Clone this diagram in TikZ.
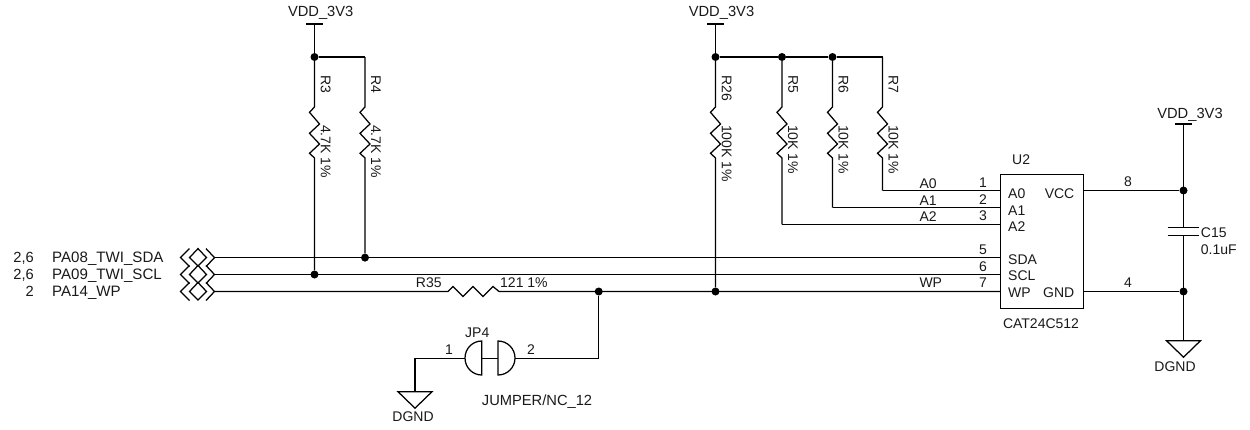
\documentclass[tikz,border=0pt]{standalone}
\usepackage{fontspec}
\setmainfont{Liberation Sans}
\newcommand\ResV[2]{\draw[wire] (#1) -- (#1 |- ry) -- ++(-5,5.3) -- ++(10,11.7) -- ++(-10,9.3) -- ++(10,10.7) -- ++(-10,9.3) -- ++(5,4.7) -- (#2);}
\newcommand\OffPage[1]{%
  \draw[wire,line join=miter] ([shift={(-25,-9)}]#1) -- ([shift={(-34,0)}]#1) -- ([shift={(-25,9)}]#1);
  \draw[wire,line join=miter] ([shift={(-16.5,-9)}]#1) -- ([shift={(-25,0)}]#1) -- ([shift={(-16.5,8.5)}]#1) -- ([shift={(-8,0)}]#1) -- cycle;
  \draw[wire,line join=miter] ([shift={(-8.5,-9)}]#1) -- ([shift={(0,0)}]#1) -- ([shift={(-8.5,9)}]#1);}
\newcommand\Pwr[1]{\draw[wire] ([shift={(-8.5,0)}]#1) -- ([shift={(8.5,0)}]#1);}
\newcommand\Gnd[1]{\draw[wire,line join=miter] ([shift={(-17,0)}]#1) -- ([shift={(17,0)}]#1) -- ([shift={(0,16.5)}]#1) -- cycle;}
\tikzset{
  wire/.style={line width=1.25pt,black},
  dot/.style={circle,fill=black,draw=none,inner sep=0pt,minimum size=8pt},
  lbl/.style={inner sep=0pt,font=\fontsize{14}{14}\selectfont,text=black!90},
  wide/.style={font=\fontsize{14.7}{14.7}\selectfont},
  wider/.style={font=\fontsize{15.1}{15.1}\selectfont},
  lw/.style={lbl,anchor=base west},
  le/.style={lbl,anchor=base east},
  lc/.style={lbl,anchor=base},
  lr/.style={lbl,anchor=west,rotate=-90},
}
\begin{document}
\begin{tikzpicture}[x=1pt,y=-1pt]
\useasboundingbox (0,0) rectangle (1250,429);
\coordinate (ry) at (0,107);
% power symbols and junctions
\coordinate (v1) at (314.5,24);
\coordinate (v2) at (715.5,24);
\coordinate (v3) at (1183.5,124);
\node[dot] (j1) at (314.5,57) {};
\node[dot] (j2) at (715.5,57) {};
\node[dot] (j5) at (782,57) {};
\node[dot] (j6) at (832.5,57) {};
\coordinate (c4) at (365,57);
\coordinate (c7) at (882.5,57);
% bus
\coordinate (sdaL) at (214.5,257.6);
\coordinate (sclL) at (214.5,274.5);
\coordinate (wpL) at (214.5,291.5);
\node[dot] (jsda) at (365,257.6) {};
\node[dot] (jscl) at (314.5,274.5) {};
\node[dot] (jwp) at (715.5,291.5) {};
\node[dot] (jj) at (598.7,291.5) {};
\coordinate (r35a) at (448,291.5);
\coordinate (r35b) at (499,291.5);
% U2
\node[draw,line width=1.25pt,inner sep=0pt,minimum width=83pt,minimum height=134pt,anchor=north west] (u2) at (1000,174) {};
\coordinate (pa0) at (1000,190.5);
\coordinate (pa1) at (1000,207.6);
\coordinate (pa2) at (1000,224.4);
\coordinate (psda) at (1000,257.6);
\coordinate (pscl) at (1000,274.5);
\coordinate (pwp) at (1000,291.5);
\coordinate (pvcc) at (1083,190.5);
\coordinate (pgnd) at (1083,291.5);
\coordinate (b7) at (882.5,190.5);
\coordinate (b6) at (832.5,207.6);
\coordinate (b5) at (782,224.4);
\node[dot] (jvcc) at (1183.5,190.5) {};
\node[dot] (jgnd) at (1183.5,291.5) {};
% capacitor
\coordinate (cap1) at (1183.5,227.3);
\coordinate (cap2) at (1183.5,235.7);
\coordinate (g1) at (1183.5,340.7);
% jumper
\coordinate (jp1) at (465,358.4);
\coordinate (jp2) at (515,358.4);
\coordinate (jpw) at (415,358.4);
\coordinate (g2) at (415,391.7);
\coordinate (jpc) at (598.7,358.4);
% wires
\Pwr{v1}\Pwr{v2}\Pwr{v3}
\draw[wire] (v1) -- (j1);
\draw[wire] (v2) -- (j2);
\draw[wire] (j1) -- (c4);
\draw[wire] (j2) -- (j5) -- (j6) -- (c7);
\ResV{j1}{jscl}
\ResV{c4}{jsda}
\ResV{j2}{jwp}
\ResV{j5}{b5}
\ResV{j6}{b6}
\ResV{c7}{b7}
\draw[wire] (b7) -- (pa0);
\draw[wire] (b6) -- (pa1);
\draw[wire] (b5) -- (pa2);
\draw[wire] (sdaL) -- (psda);
\draw[wire] (sclL) -- (pscl);
\draw[wire] (wpL) -- (r35a) -- ++(5,-5) -- ++(10,10) -- ++(10,-10) -- ++(10,10) -- ++(10,-10) -- (r35b) -- (pwp);
\OffPage{sdaL}\OffPage{sclL}\OffPage{wpL}
\draw[wire] (pvcc) -- (jvcc);
\draw[wire] (pgnd) -- (jgnd);
\draw[wire] (v3) -- (cap1);
\draw[wire] (cap2) -- (g1);
\draw[wire] ([shift={(-16,0)}]cap1) -- ([shift={(15.5,0)}]cap1);
\draw[wire] ([shift={(-16,0)}]cap2) -- ([shift={(15.5,0)}]cap2);
\Gnd{g1}
\draw[wire] (jj) -- (jpc) -- (jp2);
\draw[wire] (jp1) -- (jpw) -- (g2);
\Gnd{g2}
\draw[wire] (481.7,375) arc[start angle=90,end angle=270,x radius=16.7,y radius=17] -- cycle;
\draw[wire] (498,375) arc[start angle=90,end angle=-90,x radius=17,y radius=17] -- cycle;
\draw[wire] (481.7,358.4) -- (498,358.4);
% texts
\node[lc,wide] (tv1) at (320.7,16.7) {VDD\_3V3};
\node[lc,wide] (tv2) at (721.5,16.7) {VDD\_3V3};
\node[lc,wide] (tv3) at (1190,118) {VDD\_3V3};
\node[lr] (tr3) at (325.7,75) {R3};
\node[lr] (tr4) at (376,75) {R4};
\node[lr] (tr26) at (726.7,75) {R26};
\node[lr] (tr5) at (793,75) {R5};
\node[lr] (tr6) at (843.5,75) {R6};
\node[lr] (tr7) at (893.5,75) {R7};
\node[lr] (vr3) at (325.7,125) {4.7K 1\%};
\node[lr] (vr4) at (376,125) {4.7K 1\%};
\node[lr] (vr26) at (726.7,125) {100K 1\%};
\node[lr] (vr5) at (793,125) {10K 1\%};
\node[lr] (vr6) at (843.5,125) {10K 1\%};
\node[lr] (vr7) at (893.5,125) {10K 1\%};
\node[le,wide] (s1) at (34,262.5) {2,6};
\node[le,wide] (s2) at (34,279.5) {2,6};
\node[le,wide] (s3) at (34,296) {2};
\node[lw,wider] (n1) at (52,262.5) {PA08\_TWI\_SDA};
\node[lw,wider] (n2) at (52,279.5) {PA09\_TWI\_SCL};
\node[lw,wider] (n3) at (52,296) {PA14\_WP};
\node[lw] (tr35) at (415.7,287.7) {R35};
\node[lw] (vr35) at (500,287.7) {121 1\%};
\node[lw] (tjp) at (465,337.7) {JP4};
\node[lc] (jn1) at (449,354) {1};
\node[lc] (jn2) at (531,354) {2};
\node[lw,wide] (vjp) at (481.7,405) {JUMPER/NC\_12};
\node[lc] (tg2) at (413,421.7) {DGND};
\node[lc] (tg1) at (1175,371) {DGND};
\node[lw] (na0) at (919.3,188) {A0};
\node[lw] (na1) at (919.3,205) {A1};
\node[lw] (na2) at (919.3,221) {A2};
\node[lw] (nwp) at (919.3,287.7) {WP};
\node[lc] (p1) at (983,187) {1};
\node[lc] (p2) at (983,204) {2};
\node[lc] (p3) at (983,220.7) {3};
\node[lc] (p5) at (983,254) {5};
\node[lc] (p6) at (983,271) {6};
\node[lc] (p7) at (983,287.5) {7};
\node[lw] (ia0) at (1008,198) {A0};
\node[lw] (ia1) at (1008,215) {A1};
\node[lw] (ia2) at (1008,231.7) {A2};
\node[lw] (isda) at (1008,264.3) {SDA};
\node[lw] (iscl) at (1008,280.6) {SCL};
\node[lw] (iwp) at (1008,297) {WP};
\node[le] (ivcc) at (1074.5,198) {VCC};
\node[le] (ignd) at (1074.5,297) {GND};
\node[lw] (tu2) at (1012,164) {U2};
\node[lc] (vu2) at (1041,328) {CAT24C512};
\node[lc] (p8) at (1128,186) {8};
\node[lc] (p4) at (1128,287) {4};
\node[lw] (tc15) at (1200.7,237.7) {C15};
\node[lw] (vc15) at (1200.7,254) {0.1uF};
\end{tikzpicture}
\end{document}
